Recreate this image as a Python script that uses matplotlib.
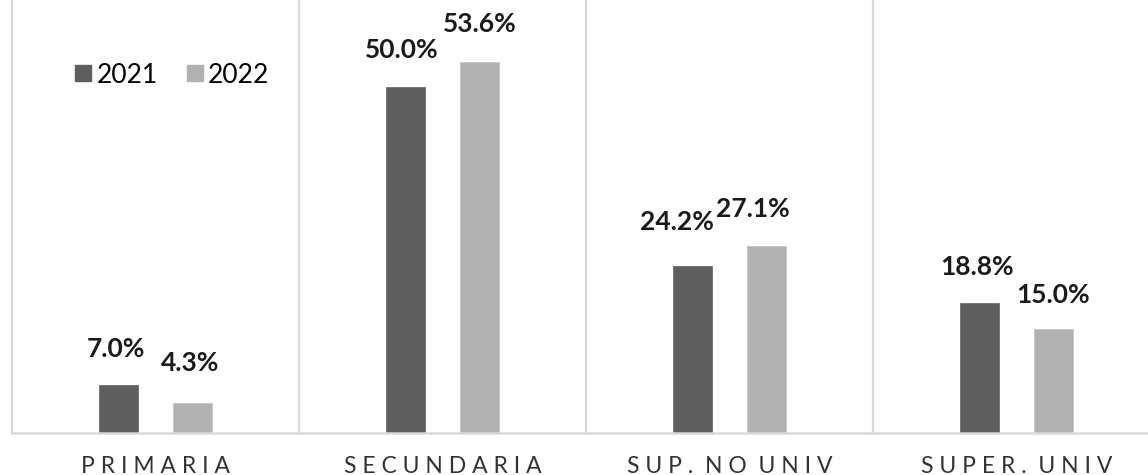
import numpy as np
import matplotlib
matplotlib.use("Agg")
import matplotlib.pyplot as plt
from matplotlib.lines import Line2D

categories = ["PRIMARIA", "SECUNDARIA", "SUP. NO UNIV", "SUPER. UNIV"]
years = ["2021", "2022"]
vals_2021 = [7.0, 50.0, 24.2, 18.8]
vals_2022 = [4.3, 53.6, 27.1, 15.0]

DARK = "#5e5e5c"
LIGHT = "#b1b1b1"
GRID = "#d9d9d9"
FONT = "Lato"

fig = plt.figure(figsize=(11.48, 4.75), dpi=100)
# axes from x=12px to the right edge, baseline at y=433px
ax = fig.add_axes([12 / 1148, 42 / 475, 1136 / 1148, 433 / 475])

x = np.arange(len(categories))
off = 0.129
w = 0.136
b1 = ax.bar(x - off, vals_2021, w, color=DARK, edgecolor="#6e6e6e", linewidth=0.6)
b2 = ax.bar(x + off, vals_2022, w, color=LIGHT, edgecolor="#c4c4c4", linewidth=0.6)

ax.set_xlim(-0.5, -0.5 + 1136 / 287)
ax.set_ylim(0, 62.6)

for sep in [0.5, 1.5, 2.5]:
    ax.axvline(sep, color=GRID, lw=1.6, zorder=0)

for s in ["top", "right"]:
    ax.spines[s].set_visible(False)
ax.spines["left"].set_color(GRID)
ax.spines["left"].set_linewidth(1.6)
ax.spines["bottom"].set_color(GRID)
ax.spines["bottom"].set_linewidth(1.8)
ax.set_xticks([])
ax.set_yticks([])

# value labels (small pixel shifts mimic the original label placement)
shift_2021 = [(-2, 17), (-3, 18), (-11, 23), (-2, 17)]
shift_2022 = [(-2, 20), (0, 19), (-10, 18), (0, 16)]
for bars, vals, shifts in [(b1, vals_2021, shift_2021), (b2, vals_2022, shift_2022)]:
    for rect, v, (dx, dy) in zip(bars, vals, shifts):
        ax.annotate(f"{v:.1f}%", (rect.get_x() + rect.get_width() / 2, v),
                    xytext=(dx, dy), textcoords="offset points",
                    ha="center", va="bottom", fontsize=19, fontweight="bold",
                    family=FONT, color="#1a1a1a")

# category labels with letter spacing
for i, cat in enumerate(categories):
    spaced = " ".join(cat).replace("   ", "  ")
    ax.annotate(spaced, (i, 0), xytext=(0, -16.5), textcoords="offset points",
                ha="center", va="top", fontsize=16.5, family=FONT,
                color="#333333", annotation_clip=False)

handles = [Line2D([], [], marker="s", ls="", markersize=11.5, color=c)
           for c in (DARK, LIGHT)]
ax.legend(handles, years, loc="upper left", bbox_to_anchor=(62 / 1148, 1 - 52 / 475),
          bbox_transform=fig.transFigure, ncol=2, frameon=False,
          prop={"family": FONT, "size": 19}, handletextpad=0.1,
          columnspacing=1.0, handlelength=0.8, borderaxespad=0)

fig.savefig("out.png", dpi=100)
